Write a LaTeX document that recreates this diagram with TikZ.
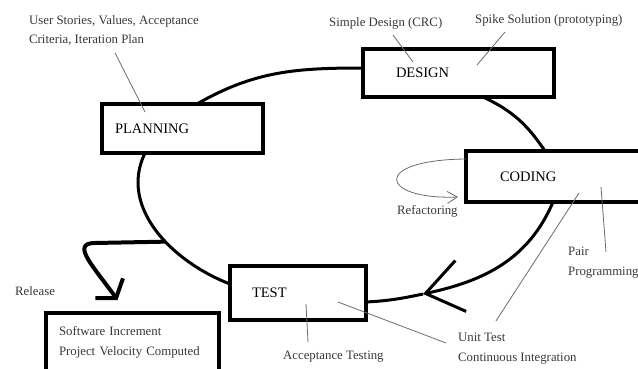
\documentclass[tikz,border=0pt]{standalone}
\usepackage{fontspec}
\setmainfont{Liberation Serif}
\usetikzlibrary{arrows.meta, positioning, calc}
\definecolor{notegray}{gray}{0.22}
\definecolor{leadgray}{gray}{0.42}
\tikzset{
  stage/.style     = {draw, line width=3.5pt, fill=white, outer sep=0pt, inner ysep=0pt,
                      align=left, anchor=north west, font=\fontsize{14.5}{17}\selectfont},
  note/.style      = {font=\fontsize{12.8}{19.5}\selectfont, text=notegray, align=left,
                      inner sep=0pt, anchor=west},
  leader/.style    = {draw=leadgray, line width=0.8pt},
  loopline/.style  = {line width=3pt},
  turnarrow/.style = {loopline, -{Straight Barb[length=36pt, width=52pt]}},
  release/.style   = {line width=4pt, -{Straight Barb[length=12pt, width=34pt]}},
  rework/.style    = {leader, -{Straight Barb[length=10pt, width=12pt]}}
}

\begin{document}
\begin{tikzpicture}[x=1pt, y=1pt]
\useasboundingbox (0,0) rectangle (638,-369);

% the four stages of the iteration
\node[stage, minimum width=161pt, minimum height=49pt, inner xsep=13pt, text width=135pt]
  (planning) at (102,-104) {PLANNING};
\node[stage, minimum width=191pt, minimum height=48pt, inner xsep=33pt, text width=125pt]
  (design) at (363,-49) {DESIGN};
\node[stage, minimum width=194pt, minimum height=51pt, inner xsep=34pt, text width=126pt]
  (coding) at (466,-151) {CODING};
\node[stage, minimum width=136pt, minimum height=54pt, inner xsep=22pt, text width=92pt]
  (test) at (230,-266) {TEST};

% what a release hands over
\node[stage, font=\fontsize{12.8}{19.5}\selectfont, text=notegray, minimum width=173pt,
  minimum height=59pt, inner xsep=13pt, text width=147pt]
  (increment) at (46,-313) {Software Increment\\Project Velocity Computed};

% practices attached to each stage
\node[note] (stories) at (29,-30.5) {User Stories, Values, Acceptance\\Criteria, Iteration Plan};
\node[note] (crc)      at (329,-23)    {Simple Design (CRC)};
\node[note] (spike)    at (475,-20)    {Spike Solution (prototyping)};
\node[note] (refactor) at (397,-211)   {Refactoring};
\node[note] (pair)     at (568,-262.5) {Pair\\Programming};
\node[note] (unit)     at (458,-348.5) {Unit Test\\Continuous Integration};
\node[note] (accept)   at (283,-357)   {Acceptance Testing};
\node[note] (release)  at (15,-291)    {Release};

% the iteration cycle
\draw[loopline] ([xshift=95pt]planning.north west) to[out=30, in=180] ([yshift=-19pt]design.north west);
\draw[loopline] ([xshift=120pt]design.south west) to[out=-25, in=124] ([xshift=79pt]coding.north west);
\coordinate (turn) at (423,-294);
\draw[turnarrow] ([xshift=87pt]coding.south west) to[out=-113, in=12] (turn);
\draw[loopline] (turn) to[out=192, in=3] ([yshift=18pt]test.south east);
\draw[loopline] ([yshift=-18pt]test.north west) to[out=159, in=244] coordinate[pos=0.42] (fork)
  ([xshift=43pt]planning.south west);

% release branch
\coordinate (reltip) at ([xshift=-15pt,yshift=13pt]increment.north);
\draw[release] (fork) -- (95,-243) .. controls (70,-243) and (94,-267) .. (reltip);

% refactoring loops back into coding
\draw[rework] ([yshift=17.5pt]coding.west) .. controls (370,-160) and (380,-200)
  .. ([xshift=-8pt,yshift=-20.5pt]coding.west);

% leaders from the notes
\draw[leader] ([xshift=86pt,yshift=-7pt]stories.south west) -- ([xshift=43pt,yshift=-8pt]planning.north west);
\draw[leader] ([xshift=64pt,yshift=-6pt]crc.south west) -- ([xshift=50pt,yshift=-13pt]design.north west);
\draw[leader] ([xshift=30pt,yshift=-6pt]spike.south west) -- ([xshift=114pt,yshift=-16pt]design.north west);
\draw[leader] ([xshift=38pt,yshift=-5pt]pair.north west) -- ([xshift=135pt,yshift=15pt]coding.south west);
\draw[leader] ([xshift=38pt,yshift=12pt]unit.north west) -- ([xshift=113pt,yshift=9pt]coding.south west);
\draw[leader] ([xshift=-12pt,yshift=5.5pt]unit.west) -- ([xshift=-28pt,yshift=18pt]test.south east);
\draw[leader] ([xshift=25pt,yshift=9pt]accept.north west) -- ([xshift=76pt,yshift=16pt]test.south west);
\end{tikzpicture}
\end{document}
